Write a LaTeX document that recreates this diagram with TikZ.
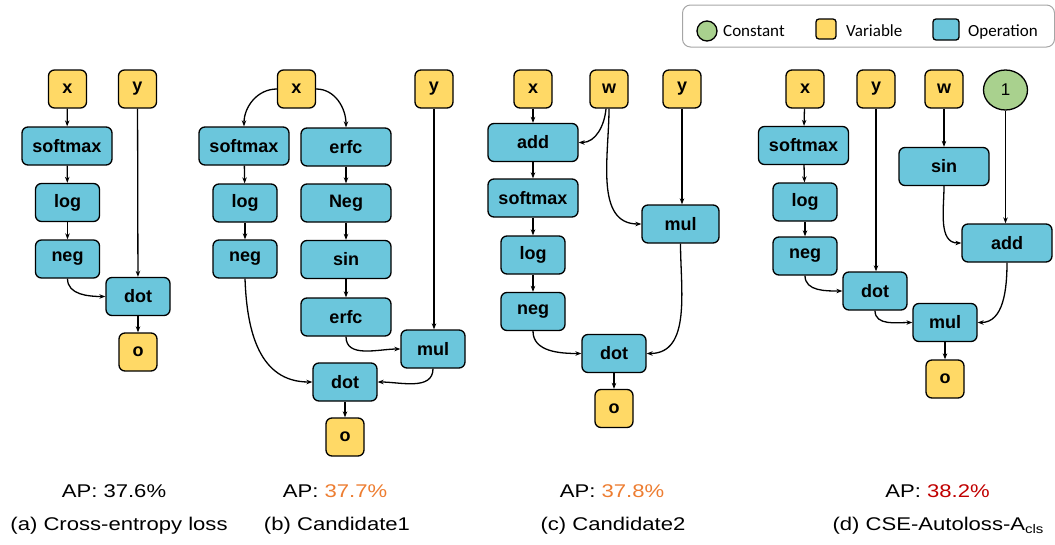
\documentclass[tikz,border=0pt]{standalone}
\usepackage{fontspec}
\setmainfont{Liberation Sans}
\newfontfamily\legfont{Carlito}
\usetikzlibrary{arrows.meta,shapes.geometric}
\definecolor{varc}{HTML}{FFD966}
\definecolor{opc}{HTML}{6BC6DC}
\definecolor{constc}{HTML}{A9D18E}
\definecolor{apor}{HTML}{ED7D31}
\definecolor{apred}{HTML}{C00000}
\definecolor{legborder}{HTML}{A6A6A6}
\newcommand{\capt}[1]{\scalebox{1.2}[1]{#1}}
\begin{document}
\begin{tikzpicture}[x=1pt,y=-1pt,
 base/.style={draw=black,line width=1.3pt,rounded corners=6pt,font=\bfseries\fontsize{18}{18}\selectfont,inner sep=0pt,text=black},
 var/.style={base,fill=varc,minimum width=38pt,minimum height=38pt},
 op/.style={base,fill=opc,minimum height=38pt,minimum width=64pt},
 wide/.style={op,minimum width=90pt},
 cst/.style={draw=black,line width=1.3pt,ellipse,fill=constc,minimum width=44pt,minimum height=40pt,inner sep=0pt,font=\fontsize{17}{17}\selectfont},
 edge/.style={line width=1.3pt,-{Stealth[length=6pt,width=4.5pt]}},
 captext/.style={anchor=base,font=\fontsize{18.4}{18.4}\selectfont,inner sep=0pt},
 leg/.style={anchor=base west,font=\legfont\fontsize{17}{17}\selectfont,inner sep=0pt},
]
\useasboundingbox (0,0) rectangle (1055,544);

% legend
\node[draw=legborder,line width=1pt,rounded corners=8pt,minimum width=372pt,minimum height=42pt,inner sep=0pt] (legbox) at (868.5,26) {};
\node[draw=black,line width=1.3pt,circle,fill=constc,minimum size=20pt,inner sep=0pt] (legc) at (707,31) {};
\node[leg] (legct) at (723,36) {Constant};
\node[draw=black,line width=1.3pt,rounded corners=3pt,fill=varc,minimum width=20pt,minimum height=20pt,inner sep=0pt] (legv) at (826,29) {};
\node[leg] (legvt) at (846,36) {Variable};
\node[draw=black,line width=1.3pt,rounded corners=3pt,fill=opc,minimum width=26pt,minimum height=21pt,inner sep=0pt] (lego) at (946,29.5) {};
\node[leg] (legot) at (968,36) {Operation};

% (a)
\node[var] (xa) at (67.5,89) {x};
\node[var] (ya) at (137.5,89) {y};
\node[wide] (softmaxa) at (67,146) {softmax};
\node[op] (loga) at (67.5,202.5) {log};
\node[op] (nega) at (67.5,259) {neg};
\node[op] (dota) at (138,296.5) {dot};
\node[var] (oa) at (138,352) {o};
\draw[edge] (xa) -- (softmaxa);
\draw[edge] (softmaxa) -- (loga);
\draw[edge] (loga) -- (nega);
\draw[edge] (ya) -- (dota);
\draw[edge] (nega.south) to[out=-90,in=180] (dota.west);
\draw[edge] (dota) -- (oa);

% (b)
\node[var] (xb) at (296.5,89) {x};
\node[var] (yb) at (434,89) {y};
\node[wide] (softmaxb) at (244,146) {softmax};
\node[wide] (erfcb) at (346,147) {erfc};
\node[op] (logb) at (245,203) {log};
\node[wide] (Negb) at (346,203) {Neg};
\node[op] (negb) at (245,259) {neg};
\node[wide] (sinb) at (346,259.5) {sin};
\node[wide] (erfcbb) at (346,317) {erfc};
\node[op] (mulb) at (433,349) {mul};
\node[op] (dotb) at (345,382) {dot};
\node[var] (ob) at (345,437) {o};
\draw[edge] (xb.west) to[out=180,in=90] (softmaxb.north);
\draw[edge] (xb.east) to[out=0,in=90] (erfcb.north);
\draw[edge] (softmaxb) -- (logb);
\draw[edge] (logb) -- (negb);
\draw[edge] (erfcb) -- (Negb);
\draw[edge] (Negb) -- (sinb);
\draw[edge] (sinb) -- (erfcbb);
\draw[edge] (yb.south) -- (yb.south |- mulb.north);
\draw[edge] (erfcbb.south) to[out=-90,in=180] (mulb.west);
\draw[edge] (negb.south) to[out=-88,in=180,looseness=1.1] (dotb.west);
\draw[edge] (mulb.south) to[out=-90,in=0] (dotb.east);
\draw[edge] (dotb) -- (ob);

% (c)
\node[var] (xc) at (533,89) {x};
\node[var] (wc) at (609,89) {w};
\node[var] (yc) at (682,89) {y};
\node[wide] (addc) at (533,142.5) {add};
\node[wide] (softmaxc) at (533,198) {softmax};
\node[op] (logc) at (533,255) {log};
\node[op] (negc) at (533,311.5) {neg};
\node[op,minimum width=77pt] (mulc) at (680.5,224) {mul};
\node[op] (dotc) at (614,353.5) {dot};
\node[var] (oc) at (614,408.5) {o};
\draw[edge] (xc) -- (addc);
\draw[edge] ([xshift=-3pt]wc.south) to[out=-95,in=0] (addc.east);
\draw[edge] (wc.south) to[out=-90,in=180] (mulc.west);
\draw[edge] (yc.south) -- (yc.south |- mulc.north);
\draw[edge] (addc) -- (softmaxc);
\draw[edge] (softmaxc) -- (logc);
\draw[edge] (logc) -- (negc);
\draw[edge] (negc.south) to[out=-90,in=180] (dotc.west);
\draw[edge] (mulc.south) to[out=-90,in=0] (dotc.east);
\draw[edge] (dotc) -- (oc);

% (d)
\node[var] (xd) at (805,89) {x};
\node[var] (yd) at (876,89) {y};
\node[var] (wd) at (944,89) {w};
\node[cst] (oned) at (1005.5,90) {1};
\node[wide] (softmaxd) at (803.5,145.5) {softmax};
\node[wide] (sind) at (944,166.5) {sin};
\node[op] (logd) at (805,202) {log};
\node[wide] (addd) at (1007,243) {add};
\node[op] (negd) at (805,256) {neg};
\node[op] (dotd) at (875,291) {dot};
\node[op] (muld) at (945,322.5) {mul};
\node[var] (od) at (945,379) {o};
\draw[edge] (xd) -- (softmaxd);
\draw[edge] (softmaxd) -- (logd);
\draw[edge] (logd) -- (negd);
\draw[edge] (yd.south) -- (yd.south |- dotd.north);
\draw[edge] (wd) -- (sind);
\draw[edge] (oned.south) -- (oned.south |- addd.north);
\draw[edge] (sind.south) to[out=-90,in=180] (addd.west);
\draw[edge] (negd.south) to[out=-90,in=180] (dotd.west);
\draw[edge] (dotd.south) to[out=-90,in=180] (muld.west);
\draw[edge] (addd.south) to[out=-90,in=0] (muld.east);
\draw[edge] (muld) -- (od);

% captions
\node[captext] (apa) at (114,497) {\capt{AP: 37.6\%}};
\node[captext] (apb) at (335,497) {\capt{AP: \textcolor{apor}{37.7\%}}};
\node[captext] (apc) at (612,497) {\capt{AP: \textcolor{apor}{37.8\%}}};
\node[captext] (apd) at (937.5,497) {\capt{AP: \textcolor{apred}{38.2\%}}};
\node[captext] (cpa) at (119,530) {\capt{(a) Cross-entropy loss}};
\node[captext] (cpb) at (337,530) {\capt{(b) Candidate1}};
\node[captext] (cpc) at (613,530) {\capt{(c) Candidate2}};
\node[captext] (cpd) at (938,530) {\capt{(d) CSE-Autoloss-A\raisebox{-3.5pt}{\fontsize{12.5}{12.5}\selectfont cls}}};
\end{tikzpicture}
\end{document}
